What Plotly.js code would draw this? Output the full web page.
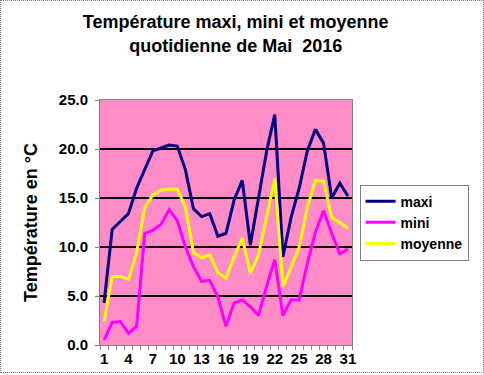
<!DOCTYPE html>
<html>
<head>
<meta charset="utf-8">
<script src="https://cdn.plot.ly/plotly-3.0.1.min.js"></script>
<style>
  html, body { margin: 0; padding: 0; background: #fff; }
  #wrap { position: relative; width: 484px; height: 375px; }
  #chart { position: absolute; left: 0; top: 0; width: 484px; height: 375px; }
  #frame { position: absolute; left: 0; top: 0; width: 482px; height: 371px; border: 1px dotted #777; pointer-events: none; }
</style>
</head>
<body>
<div id="wrap"><div id="chart"></div><div id="frame"></div></div>
<script>
const days = [1,2,3,4,5,6,7,8,9,10,11,12,13,14,15,16,17,18,19,20,21,22,23,24,25,26,27,28,29,30,31];
const maxi = [4.3, 11.8, 12.6, 13.4, 16.0, 17.9, 19.8, 20.1, 20.4, 20.3, 17.9, 13.9, 13.1, 13.4, 11.1, 11.4, 14.8, 16.8, 10.2, 15.0, 19.8, 23.5, 9.0, 13.0, 16.0, 19.8, 22.0, 20.6, 15.0, 16.5, 15.2];
const mini = [0.5, 2.3, 2.4, 1.2, 1.9, 11.4, 11.7, 12.3, 13.8, 12.7, 10.0, 8.0, 6.5, 6.6, 4.9, 1.9, 4.3, 4.6, 3.9, 3.0, 6.0, 8.7, 3.0, 4.6, 4.6, 8.3, 11.5, 13.7, 11.4, 9.3, 9.8];
const moyenne = [2.4, 7.0, 7.0, 6.7, 9.4, 14.0, 15.3, 15.8, 15.9, 15.9, 14.1, 9.4, 8.9, 9.2, 7.4, 6.8, 9.0, 10.9, 7.3, 9.2, 13.1, 17.0, 6.0, 7.9, 10.0, 14.0, 16.8, 16.7, 13.0, 12.5, 11.9];
const xTickVals = [1,4,7,10,13,16,19,22,25,28,31];
const yTickVals = [0,5,10,15,20,25];

const FONT = 'Liberation Sans, Arial, sans-serif';
const traces = [
  {x: days, y: maxi, name: 'maxi', type: 'scatter', mode: 'lines', line: {color: '#000080', width: 3}},
  {x: days, y: mini, name: 'mini', type: 'scatter', mode: 'lines', line: {color: '#FF00FF', width: 3}},
  {x: days, y: moyenne, name: 'moyenne', type: 'scatter', mode: 'lines', line: {color: '#FFFF00', width: 3}}
];

const layout = {
  width: 484, height: 375,
  margin: {l: 100, r: 132, t: 100, b: 30},
  paper_bgcolor: 'rgba(0,0,0,0)',
  plot_bgcolor: '#FF8CC6',
  font: {family: FONT, color: '#000'},
  title: {
    text: 'Température maxi, mini et moyenne<br>quotidienne de Mai  2016',
    font: {family: FONT, size: 18, weight: 'bold', color: '#000'},
    x: 0.487, xref: 'container', xanchor: 'center',
    y: 0.925, yref: 'container', yanchor: 'top'
  },
  xaxis: {
    range: [0.5, 31.5],
    tickmode: 'array', tickvals: xTickVals, ticktext: xTickVals.map(String),
    ticks: '', showgrid: false, zeroline: false,
    showline: true, linecolor: '#808080', linewidth: 1, mirror: true,
    tickfont: {family: FONT, size: 15, weight: 'bold', color: '#000'},
    minor: {tick0: 0.5, dtick: 1, ticks: 'outside', ticklen: 4, tickcolor: '#808080', tickwidth: 1, showgrid: false},
    fixedrange: true
  },
  yaxis: {
    range: [0, 25],
    tickmode: 'array', tickvals: yTickVals, ticktext: yTickVals.map(v => v.toFixed(1)),
    ticks: 'outside', ticklen: 4, tickcolor: '#808080',
    ticklabelstandoff: 4,
    showgrid: true, gridcolor: '#000000', gridwidth: 2,
    zeroline: false,
    showline: true, linecolor: '#808080', linewidth: 1, mirror: true,
    tickfont: {family: FONT, size: 15, weight: 'bold', color: '#000'},
    title: {text: 'Température en °C', font: {family: FONT, size: 18, weight: 'bold', color: '#000'}, standoff: 16},
    automargin: false,
    fixedrange: true
  },
  showlegend: true,
  legend: {
    x: 1.03, xanchor: 'left', y: 0.655, yanchor: 'top',
    bgcolor: '#FFFFFF', bordercolor: '#808080', borderwidth: 1,
    font: {family: FONT, size: 14, weight: 'bold', color: '#000'},
    itemwidth: 30, tracegroupgap: 0
  }
};

Plotly.newPlot('chart', traces, layout, {staticPlot: true, displayModeBar: false});
</script>
</body>
</html>
